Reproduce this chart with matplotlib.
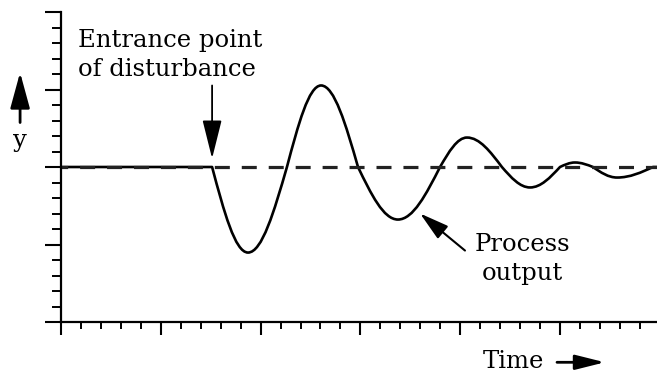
import matplotlib.pyplot as plt
from matplotlib.path import Path
from matplotlib.patches import PathPatch

plt.rcParams['font.family'] = ['DejaVu Serif']
plt.rcParams['lines.scale_dashes'] = False

# process output: zero crossings and turning points (time units, deviation)
t_key = [7.57, 9.37, 11.32, 13.03, 14.88, 16.88, 18.99, 20.34,
         22.09, 23.50, 25.00, 25.75, 26.65, 27.86, 29.66]
y_key = [0.0, -5.52, 0.0, 5.26, 0.0, -3.39, 0.0, 1.90,
         0.0, -1.32, 0.0, 0.29, 0.0, -0.68, 0.0]

setpoint = 0.0
t_disturb = 7.57
x_max = 29.86

fig = plt.figure(figsize=(6.57, 3.73), dpi=100)
ax = fig.add_axes([61 / 657, 51 / 373, 596 / 657, 310 / 373])

ax.plot([0, x_max], [setpoint, setpoint], color='#222222', lw=2.3,
        linestyle=(6, (10.8, 8.6)), solid_capstyle='butt')

# smooth response: flat until the disturbance, then cubic arcs between
# each crossing and turning point
verts = [(0.0, setpoint), (t_key[0], y_key[0])]
codes = [Path.MOVETO, Path.LINETO]
for i in range(len(t_key) - 1):
    x0, y0 = t_key[i], y_key[i]
    x1, y1 = t_key[i + 1], y_key[i + 1]
    dx = x1 - x0
    if y0 == setpoint:
        c1 = (x0 + 0.33 * dx, 0.52 * y1)
        c2 = (x0 + 0.64 * dx, y1)
    else:
        c1 = (x0 + 0.36 * dx, y0)
        c2 = (x0 + 0.67 * dx, 0.52 * y0)
    verts += [c1, c2, (x1, y1)]
    codes += [Path.CURVE4] * 3
verts.append((x_max, setpoint))
codes.append(Path.LINETO)
ax.add_patch(PathPatch(Path(verts, codes), fill=False, edgecolor='black',
                       lw=1.9, joinstyle='round'))

ax.set_xlim(0, x_max)
ax.set_ylim(-10, 10)

for s in ['top', 'right']:
    ax.spines[s].set_visible(False)
for s in ['left', 'bottom']:
    ax.spines[s].set_linewidth(1.6)

ax.set_xticks(range(0, 30, 5))
ax.set_xticks(range(0, 30), minor=True)
ax.set_yticks([-10, -5, 0, 5, 10])
ax.set_yticks(range(-10, 11), minor=True)
ax.tick_params(axis='x', which='major', length=9.4, width=1.5, direction='out')
ax.tick_params(axis='x', which='minor', length=4.7, width=1.4, direction='out')
ax.tick_params(axis='y', which='major', length=11.5, width=1.5, direction='out')
ax.tick_params(axis='y', which='minor', length=6.5, width=1.4, direction='out')
ax.set_xticklabels([])
ax.set_yticklabels([])

fs = 17.5
ax.text(0.85, 7.71, 'Entrance point', fontsize=fs, va='baseline', ha='left')
ax.text(0.85, 5.90, 'of disturbance', fontsize=fs, va='baseline', ha='left')
ax.annotate('', xy=(t_disturb, 0.55), xytext=(t_disturb, 5.26),
            arrowprops=dict(arrowstyle='-|>,head_length=2.4,head_width=0.6',
                            mutation_scale=10, color='black', lw=1.3,
                            shrinkA=0, shrinkB=0))

ax.text(23.1, -5.39, 'Process', fontsize=fs, va='baseline', ha='center')
ax.text(23.1, -7.32, 'output', fontsize=fs, va='baseline', ha='center')
ax.annotate('', xy=(17.99, -3.0), xytext=(20.24, -5.39),
            arrowprops=dict(arrowstyle='-|>,head_length=1.8,head_width=0.5',
                            mutation_scale=10, color='black', lw=1.5,
                            shrinkA=0, shrinkB=0))

# axis names with their arrows
ax.text(22.65, -13.0, 'Time', fontsize=fs, va='baseline', ha='center',
        clip_on=False)
ax.annotate('', xy=(27.25, -12.6), xytext=(24.85, -12.6),
            annotation_clip=False,
            arrowprops=dict(arrowstyle='-|>,head_length=1.8,head_width=0.45',
                            mutation_scale=10, color='black', lw=2.0,
                            shrinkA=0, shrinkB=0))
ax.text(-2.05, 1.26, 'y', fontsize=fs, va='baseline', ha='center',
        clip_on=False)
ax.annotate('', xy=(-2.05, 6.1), xytext=(-2.05, 2.87),
            annotation_clip=False,
            arrowprops=dict(arrowstyle='-|>,head_length=2.2,head_width=0.6',
                            mutation_scale=10, color='black', lw=2.0,
                            shrinkA=0, shrinkB=0))

fig.savefig('out.png', dpi=100)
